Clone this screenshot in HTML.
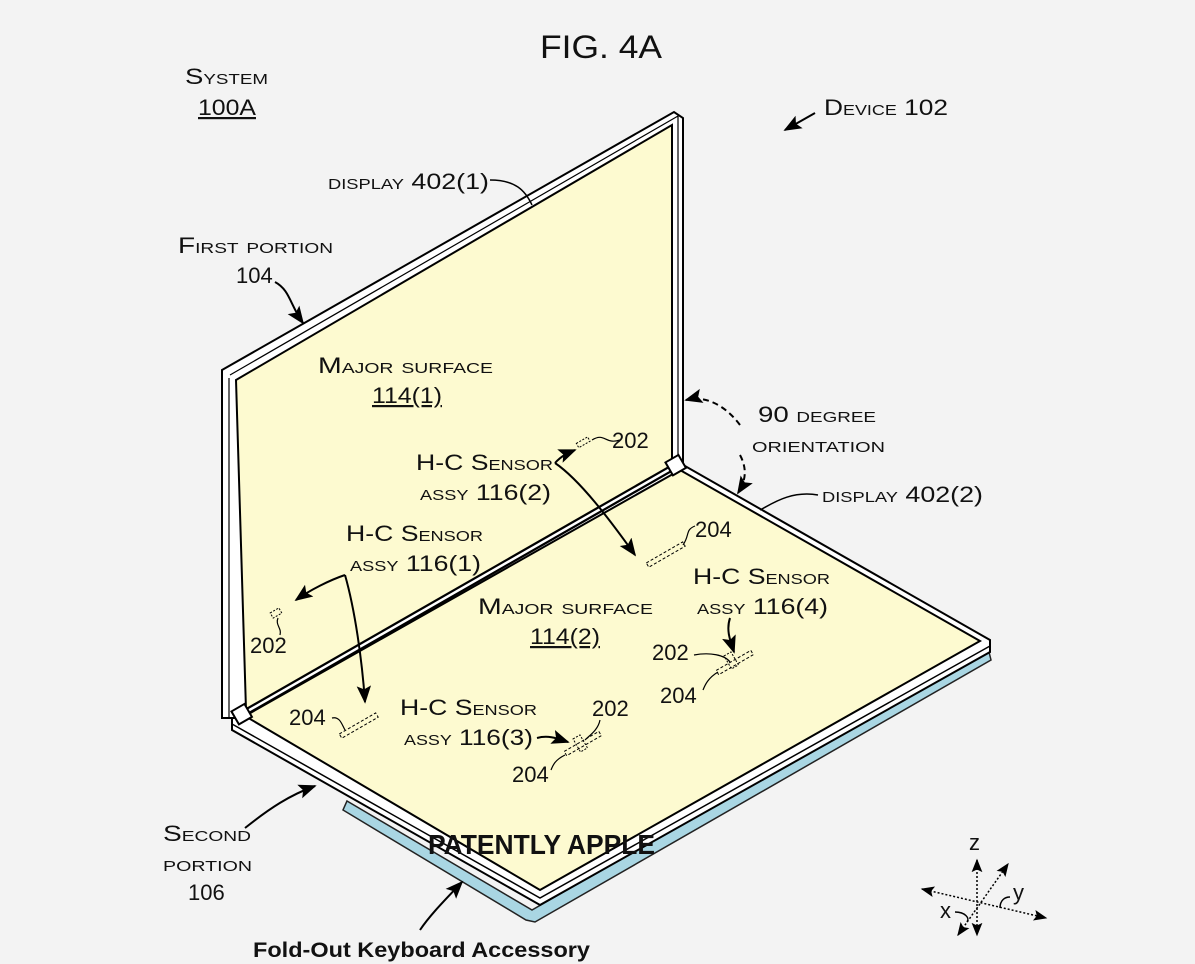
<!DOCTYPE html>
<html><head><meta charset="utf-8"><style>
html,body{margin:0;padding:0;background:#f3f3f3}
svg{display:block}
text{font-family:"Liberation Sans",sans-serif;fill:#111}
.sc{font-variant:small-caps;font-size:22px}
.n{font-size:22px}
</style></head><body>
<svg width="1195" height="964" viewBox="0 0 1195 964" xmlns="http://www.w3.org/2000/svg">
<defs>
<marker id="ah" viewBox="0 0 10 10" refX="9" refY="5" markerWidth="9" markerHeight="9" orient="auto-start-reverse"><path d="M0,1 L10,5 L0,9 L2,5z" fill="#000"/></marker>
</defs>
<rect width="1195" height="964" fill="#f3f3f3"/>

<!-- blue keyboard -->
<path d="M347,801 L532,910 L988,648 L991,660 L535,922 L526,920 L343,810 Z" fill="#a9d6e3" stroke="#222" stroke-width="1.5"/>

<!-- lower panel body -->
<path d="M232,718 L678,462 L990,640 L990,652 L540,905 L232,730 Z" fill="#fff" stroke="#000" stroke-width="2"/>
<path d="M245,716 L680,470 L980,641 L540,890 Z" fill="#fdfad0" stroke="#000" stroke-width="2"/>
<path d="M232,724 L540,898 L990,646" fill="none" stroke="#000" stroke-width="1.5"/>

<!-- upper panel body -->
<path d="M222,370 L674,112 L683,118 L683,462 L240,718 L222,718 Z" fill="#fff" stroke="#000" stroke-width="2"/>
<path d="M236,380 L672,125 L672,466 L246,710 Z" fill="#fdfad0" stroke="#000" stroke-width="2"/>
<path d="M230,375 L678,116 L678,464" fill="none" stroke="#000" stroke-width="1.2"/>
<path d="M229,378 L229,718" fill="none" stroke="#000" stroke-width="1.2"/>
<!-- hinge -->
<path d="M246,712 L672,468" stroke="#000" stroke-width="7"/>
<path d="M246,712 L672,468" stroke="#fff" stroke-width="2.5"/>
<rect x="668" y="458" width="15" height="15" fill="#fff" stroke="#000" stroke-width="2" transform="rotate(-30 675 465)"/>
<rect x="234" y="707" width="15" height="15" fill="#fff" stroke="#000" stroke-width="2" transform="rotate(-30 241 714)"/>

<!-- title -->
<text x="540" y="58" font-size="32" textLength="122" lengthAdjust="spacingAndGlyphs" fill="#222">FIG. 4A</text>
<text x="185" y="84" class="sc" textLength="83" lengthAdjust="spacingAndGlyphs">System</text>
<text x="198" y="115" class="n" text-decoration="underline" textLength="58" lengthAdjust="spacingAndGlyphs">100A</text>
<text x="824" y="115" class="sc" textLength="124" lengthAdjust="spacingAndGlyphs">Device 102</text>
<path d="M815,113 L785,130" stroke="#000" stroke-width="2" fill="none" marker-end="url(#ah)"/>

<text x="328" y="189" class="sc" textLength="161" lengthAdjust="spacingAndGlyphs">display 402(1)</text>
<path d="M490,180 C515,180 525,190 532,205" stroke="#000" stroke-width="1.5" fill="none"/>
<text x="178" y="253" class="sc" textLength="155" lengthAdjust="spacingAndGlyphs">First portion</text>
<text x="236" y="283" class="n">104</text>
<path d="M275,282 C290,290 290,305 303,323" stroke="#000" stroke-width="2" fill="none" marker-end="url(#ah)"/>

<text x="318" y="373" class="sc" textLength="175" lengthAdjust="spacingAndGlyphs">Major surface</text>
<text x="372" y="403" class="n" text-decoration="underline" textLength="70" lengthAdjust="spacingAndGlyphs">114(1)</text>

<text x="758" y="422" class="sc" textLength="118" lengthAdjust="spacingAndGlyphs">90 degree</text>
<text x="752" y="452" class="sc" textLength="133" lengthAdjust="spacingAndGlyphs">orientation</text>
<path d="M740,425 C725,405 705,395 686,400" stroke="#000" stroke-width="2" stroke-dasharray="6,4" fill="none" marker-end="url(#ah)"/>
<path d="M740,455 C748,470 745,482 738,493" stroke="#000" stroke-width="2" stroke-dasharray="6,4" fill="none" marker-end="url(#ah)"/>
<text x="822" y="502" class="sc" textLength="161" lengthAdjust="spacingAndGlyphs">display 402(2)</text>
<path d="M818,495 C790,490 770,505 760,510" stroke="#000" stroke-width="1.5" fill="none"/>

<text x="416" y="470" class="sc" textLength="137" lengthAdjust="spacingAndGlyphs">H-C Sensor</text>
<text x="420" y="500" class="sc" textLength="131" lengthAdjust="spacingAndGlyphs">assy 116(2)</text>
<path d="M555,463 C562,455 570,452 575,450" stroke="#000" stroke-width="2" fill="none" marker-end="url(#ah)"/>
<path d="M555,463 C580,480 610,520 635,555" stroke="#000" stroke-width="2" fill="none" marker-end="url(#ah)"/>
<rect x="577" y="440" width="13" height="5" fill="none" stroke="#000" stroke-dasharray="2,1.5" transform="rotate(-30 583 443)"/>
<path d="M592,440 C605,432 605,445 620,440" stroke="#000" stroke-width="1.2" fill="none"/>
<text x="612" y="448" class="n">202</text>
<rect x="645" y="552" width="42" height="5" fill="none" stroke="#000" stroke-dasharray="3,2" transform="rotate(-30 666 555)"/>
<path d="M683,545 C690,535 685,530 695,526" stroke="#000" stroke-width="1.2" fill="none"/>
<text x="695" y="537" class="n">204</text>

<text x="346" y="541" class="sc" textLength="137" lengthAdjust="spacingAndGlyphs">H-C Sensor</text>
<text x="350" y="571" class="sc" textLength="131" lengthAdjust="spacingAndGlyphs">assy 116(1)</text>
<path d="M345,575 C330,580 310,590 296,600" stroke="#000" stroke-width="2" fill="none" marker-end="url(#ah)"/>
<path d="M345,575 C355,610 362,660 365,702" stroke="#000" stroke-width="2" fill="none" marker-end="url(#ah)"/>
<rect x="271" y="610" width="10" height="6" fill="none" stroke="#000" stroke-dasharray="2,1.5" transform="rotate(-30 276 613)"/>
<path d="M278,618 C275,625 282,628 280,635" stroke="#000" stroke-width="1.2" fill="none"/>
<text x="250" y="653" class="n">202</text>
<rect x="338" y="723" width="42" height="5" fill="none" stroke="#000" stroke-dasharray="3,2" transform="rotate(-30 359 726)"/>
<path d="M332,718 C340,716 342,725 345,730" stroke="#000" stroke-width="1.2" fill="none"/>
<text x="289" y="725" class="n">204</text>

<text x="478" y="614" class="sc" textLength="175" lengthAdjust="spacingAndGlyphs">Major surface</text>
<text x="530" y="644" class="n" text-decoration="underline" textLength="70" lengthAdjust="spacingAndGlyphs">114(2)</text>

<text x="693" y="584" class="sc" textLength="137" lengthAdjust="spacingAndGlyphs">H-C Sensor</text>
<text x="697" y="614" class="sc" textLength="131" lengthAdjust="spacingAndGlyphs">assy 116(4)</text>
<path d="M730,618 C726,630 730,640 734,652" stroke="#000" stroke-width="2" fill="none" marker-end="url(#ah)"/>
<text x="652" y="660" class="n">202</text>
<path d="M694,655 C710,652 725,655 730,662" stroke="#000" stroke-width="1.2" fill="none"/>
<rect x="715" y="660" width="40" height="5" fill="none" stroke="#000" stroke-dasharray="3,2" transform="rotate(-30 735 663)"/>
<rect x="727" y="653" width="8" height="15" fill="none" stroke="#000" stroke-dasharray="2,1.5" transform="rotate(-30 731 660)"/>
<path d="M718,672 C708,678 705,685 703,690" stroke="#000" stroke-width="1.2" fill="none"/>
<text x="660" y="703" class="n">204</text>

<text x="400" y="715" class="sc" textLength="137" lengthAdjust="spacingAndGlyphs">H-C Sensor</text>
<text x="404" y="745" class="sc" textLength="129" lengthAdjust="spacingAndGlyphs">assy 116(3)</text>
<path d="M537,738 C548,735 556,738 568,742" stroke="#000" stroke-width="2" fill="none" marker-end="url(#ah)"/>
<text x="592" y="716" class="n">202</text>
<path d="M600,720 C598,730 590,735 585,740" stroke="#000" stroke-width="1.2" fill="none"/>
<rect x="563" y="741" width="40" height="5" fill="none" stroke="#000" stroke-dasharray="3,2" transform="rotate(-30 583 744)"/>
<rect x="576" y="736" width="8" height="15" fill="none" stroke="#000" stroke-dasharray="2,1.5" transform="rotate(-30 580 743)"/>
<path d="M565,755 C555,760 553,765 551,770" stroke="#000" stroke-width="1.2" fill="none"/>
<text x="512" y="782" class="n">204</text>

<text x="163" y="841" class="sc" textLength="88" lengthAdjust="spacingAndGlyphs">Second</text>
<text x="163" y="871" class="sc" textLength="89" lengthAdjust="spacingAndGlyphs">portion</text>
<text x="188" y="900" class="n">106</text>
<path d="M245,828 C270,808 290,795 315,786" stroke="#000" stroke-width="2" fill="none" marker-end="url(#ah)"/>

<text x="428" y="854" font-size="28" font-weight="bold" fill="#111" textLength="227" lengthAdjust="spacingAndGlyphs">PATENTLY APPLE</text>
<path d="M420,930 C430,915 445,900 462,882" stroke="#000" stroke-width="2" fill="none" marker-end="url(#ah)"/>
<text x="253" y="957" font-size="21" font-weight="bold" textLength="337" lengthAdjust="spacingAndGlyphs">Fold-Out Keyboard Accessory</text>

<!-- axes -->
<text x="969" y="850" class="n">z</text>
<text x="1013" y="900" class="n">y</text>
<text x="940" y="918" class="n">x</text>
<g stroke="#000" stroke-width="1.5" stroke-dasharray="2,2" fill="none">
<path d="M977,860 L977,935" marker-start="url(#ah)" marker-end="url(#ah)"/>
<path d="M922,889 L1046,918" marker-start="url(#ah)" marker-end="url(#ah)"/>
<path d="M958,935 L1008,864" marker-start="url(#ah)" marker-end="url(#ah)"/>
</g>
<path d="M955,912 C965,912 970,918 967,922" stroke="#000" stroke-width="1.5" fill="none"/>
<path d="M1000,908 C1000,900 1005,897 1010,897" stroke="#000" stroke-width="1.5" fill="none"/>
</svg>
</body></html>
